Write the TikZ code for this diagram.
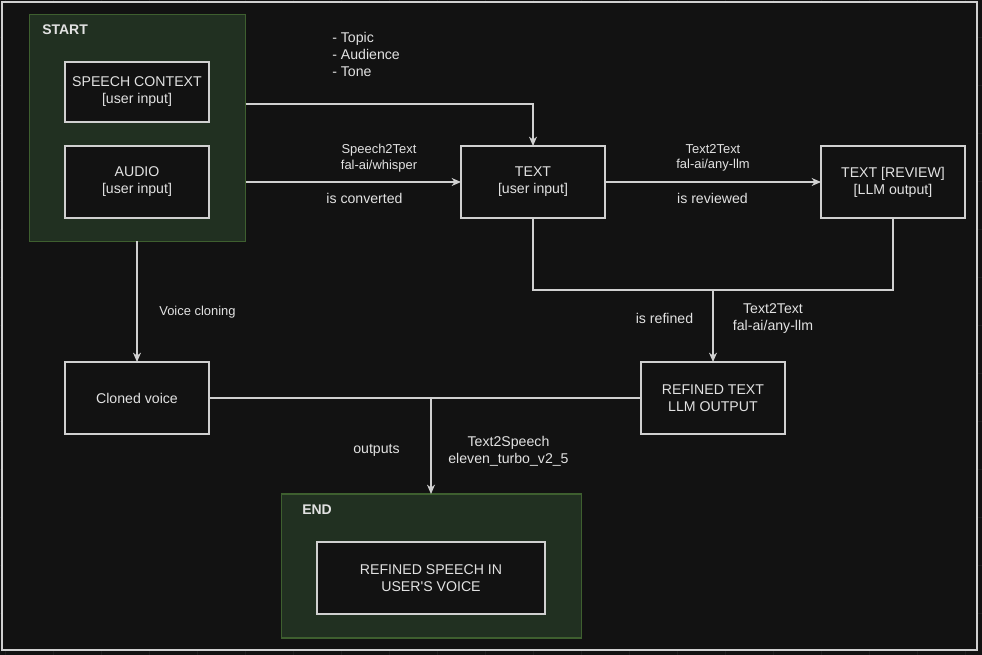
\documentclass[tikz,border=0pt]{standalone}
\usepackage{fontspec}
\setmainfont{Liberation Sans}[Ligatures=TeXOff]
\usetikzlibrary{arrows.meta,calc}
\definecolor{bg}{HTML}{121212}
\definecolor{gridc}{HTML}{1E1E1E}
\definecolor{fg}{HTML}{E2E2E2}
\definecolor{edge}{HTML}{D0D0D0}
\definecolor{grfill}{HTML}{213021}
\definecolor{grdraw}{HTML}{3E5F2F}
\tikzset{
  box/.style={draw=edge, fill=bg, line width=1pt, inner sep=0pt, outer sep=0pt, text=fg,
    align=center, font=\fontsize{10.6}{12.75}\selectfont},
  grp/.style={draw=grdraw, fill=grfill, line width=1pt, inner sep=0pt, outer sep=0pt},
  conn/.style={draw=edge, line width=1pt},
  arr/.style={conn, -{Stealth[length=7pt,width=6pt,inset=2.2pt]}},
  lbl/.style={text=fg, align=center, inner sep=0pt, font=\fontsize{10.6}{12.75}\selectfont},
  slbl/.style={text=fg, align=center, inner sep=0pt, font=\fontsize{9.7}{11.6}\selectfont},
  ttl/.style={text=fg, anchor=west, inner sep=0pt, font=\fontsize{10.5}{12}\selectfont\bfseries},
}
\begin{document}
\begin{tikzpicture}[x=0.75pt,y=-0.75pt]
\useasboundingbox (0,0) rectangle (982,655);
\fill[bg] (0,0) rectangle (982,655);
\foreach \i in {0,...,20} \draw[gridc, line width=0.6pt] (5+48*\i,0) -- (5+48*\i,655);
\foreach \j in {0,...,13} \draw[gridc, line width=0.6pt] (0,37+48*\j-48) -- (982,37+48*\j-48);
\draw[edge, fill=bg, line width=1pt] (2,2) rectangle (977,650);

% containers
\node[grp, minimum width=162pt, minimum height=170.25pt] (start) at (137.5,128) {};
\node[ttl] (startl) at (42,30) {START};
\node[grp, minimum width=225pt, minimum height=108pt] (endc) at (431.5,566) {};
\node[ttl] (endl) at (302,510) {END};

% boxes
\node[box, minimum width=108pt, minimum height=45pt] (sc) at (137,92) {SPEECH CONTEXT\\{}[user input]};
\node[box, minimum width=108pt, minimum height=54pt] (audio) at (137,182) {AUDIO\\{}[user input]};
\node[box, minimum width=108pt, minimum height=54pt] (text) at (533,182) {TEXT\\{}[user input]};
\node[box, minimum width=108pt, minimum height=54pt] (review) at (893,182) {TEXT [REVIEW]\\{}[LLM output]};
\node[box, minimum width=108pt, minimum height=54pt] (cloned) at (137,398) {Cloned voice};
\node[box, minimum width=108pt, minimum height=54pt] (refined) at (713,398) {REFINED TEXT\\LLM OUTPUT};
\node[box, minimum width=171pt, minimum height=54pt] (speech) at (431,578) {REFINED SPEECH IN\\USER'S VOICE};

% coordinates
\coordinate (c1) at (0,104);
\coordinate (j1) at (713,290);
\coordinate (j2) at (431,398);

% connectors
\draw[arr] (start.east |- c1) -| (text.north);
\draw[arr] (start.east |- text.west) -- (text.west);
\draw[arr] (text.east) -- (review.west);
\draw[conn] (text.south) |- (j1) -| (review.south);
\draw[arr] (j1) -- (refined.north);
\draw[arr] (start.south -| cloned.north) -- (cloned.north);
\draw[conn] (cloned.east) -- (refined.west);
\draw[arr] (j2) -- (endc.north -| j2);

% labels
\node[lbl, anchor=west, align=left] (ctx) at (332,54) {- Topic\\- Audience\\- Tone};
\node[slbl] (l1) at (379,158) {Speech2Text\\fal-ai/whisper};
\node[lbl] (l2) at (364.5,198) {is converted};
\node[slbl] (l3) at (713,158) {Text2Text\\fal-ai/any-llm};
\node[lbl] (l4) at (712.5,198) {is reviewed};
\node[lbl] (l5) at (664.5,318) {is refined};
\node[lbl] (l6) at (773,319) {Text2Text\\fal-ai/any-llm};
\node[slbl] (l7) at (197.5,312) {Voice cloning};
\node[lbl] (l8) at (376.5,450) {outputs};
\node[lbl] (l9) at (508.5,451) {Text2Speech\\eleven\_turbo\_v2\_5};
\end{tikzpicture}
\end{document}
